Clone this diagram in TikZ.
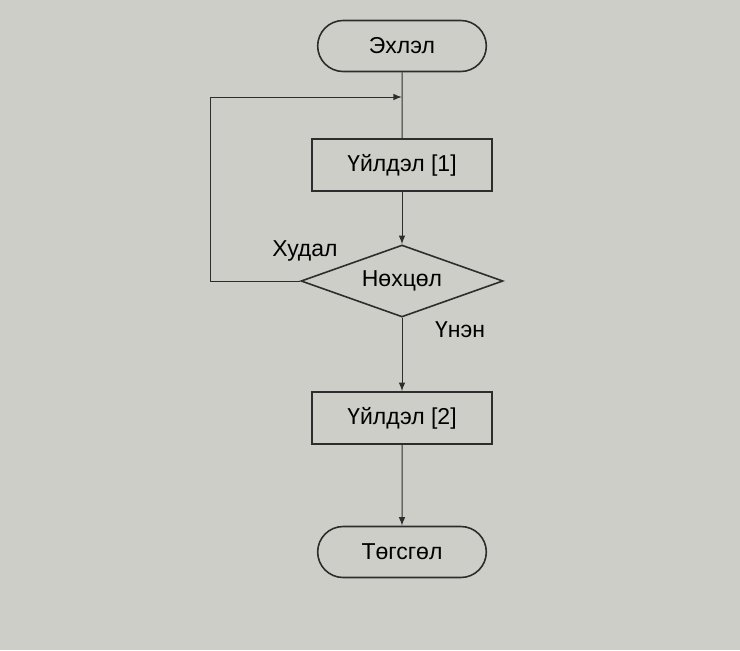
\documentclass[tikz,border=0pt]{standalone}
\usepackage{fontspec}
\setmainfont{Liberation Sans}
\usetikzlibrary{arrows,shapes,positioning}
\definecolor{papergray}{RGB}{206, 206, 201}
\definecolor{inkgray}{RGB}{45, 45, 45}

\begin{document}
\begin{tikzpicture}[x=1pt, y=1pt, >=latex, font=\fontsize{11.5}{13}\selectfont,
    terminal/.style={draw=inkgray, line width=0.8pt, rounded rectangle, minimum width=91pt, minimum height=25.5pt},
    actionbox/.style={draw=inkgray, line width=0.8pt, rectangle, minimum width=90pt, minimum height=26pt},
    decision/.style={draw=inkgray, line width=0.8pt, diamond, aspect=2.8, minimum width=101pt, minimum height=36pt, inner sep=0pt},
    flow/.style={draw=inkgray, line width=0.5pt}]
        % Background
        \fill[papergray] (0,0) rectangle (370,325);
        \useasboundingbox (0,0) rectangle (370,325);

        % Shapes
        \node[terminal] (start) at (201,302) {Эхлэл};
        \node[actionbox] (act1) at (201,242.5) {Үйлдэл [1]};
        \node[decision] (cond) at (201,184.5) {Нөхцөл};
        \node[actionbox] (act2) at (201,116) {Үйлдэл [2]};
        \node[terminal] (stop) at (201,49) {Төгсгөл};
        \coordinate (join) at (201,276.5);
        \coordinate (back) at (105,276.5);

        % Connectors
        \draw[flow] (start) -- (act1);
        \draw[flow, ->] (act1) -- (cond);
        \draw[flow, ->] (cond.west) -| (back) -- (join);
        \draw[flow, ->] (cond) -- (act2);
        \draw[flow, ->] (act2) -- (stop);

        % Labels
        \node at (152.5,199.5) {Худал};
        \node at (230,160) {Үнэн};
\end{tikzpicture}
\end{document}
